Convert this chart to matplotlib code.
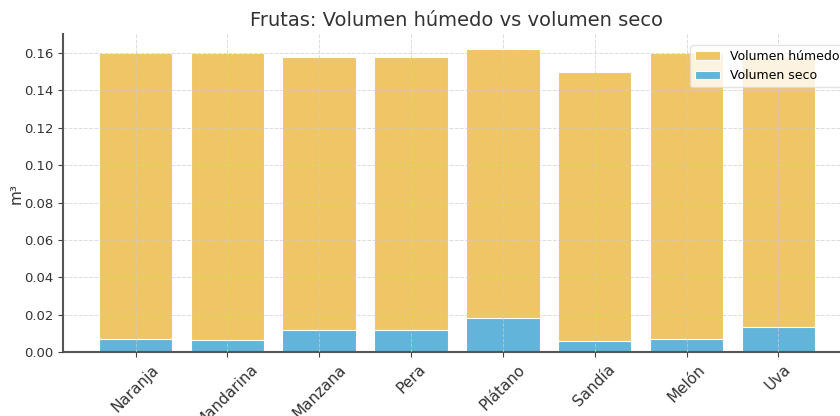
import matplotlib
matplotlib.use("Agg")
import matplotlib.pyplot as plt
import numpy as np

frutas = ["Naranja", "Mandarina", "Manzana", "Pera", "Plátano", "Sandía", "Melón", "Uva"]
vol_humedo = [0.160, 0.160, 0.158, 0.158, 0.162, 0.150, 0.160, 0.158]
vol_seco = [0.0070, 0.0063, 0.0116, 0.0116, 0.0180, 0.0057, 0.0070, 0.0135]

fig = plt.figure(figsize=(8.4, 4.16), dpi=100)
ax = fig.add_axes([0.075, 0.1538, 0.938, 0.764])

x = np.arange(len(frutas))
ax.bar(x, vol_humedo, width=0.8, color="#EFC566", edgecolor="white", linewidth=0.8, label="Volumen húmedo")
ax.bar(x, vol_seco, width=0.8, color="#62B4DA", edgecolor="white", linewidth=0.8, label="Volumen seco")

ax.set_xticks(x)
ax.set_xticklabels(frutas, rotation=45, fontsize=11, color="#333333")
ax.set_ylabel("m³", fontsize=11, color="#333333", labelpad=0)
ax.set_title("Frutas: Volumen húmedo vs volumen seco", fontsize=14, color="#333333")
ax.tick_params(axis="y", labelsize=9.5, colors="#333333")
ax.tick_params(axis="both", color="#444444")

ax.set_axisbelow(False)
ax.grid(True, linestyle="--", color="#cccccc", linewidth=0.7, alpha=0.7)

for s in ["top", "right"]:
    ax.spines[s].set_visible(False)
for s in ["left", "bottom"]:
    ax.spines[s].set_color("#555555")
    ax.spines[s].set_linewidth(1.5)

leg = ax.legend(loc="upper right", fontsize=9, bbox_to_anchor=(1.0, 0.985))
leg.get_frame().set_edgecolor("#dddddd")

fig.savefig("out.png", dpi=100)
